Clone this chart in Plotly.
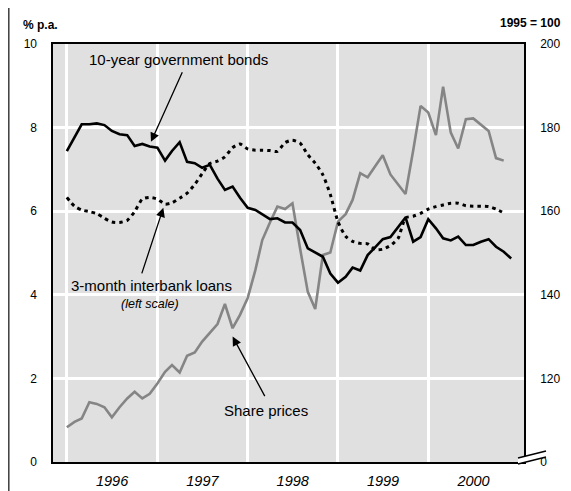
import pandas as pd
import plotly.graph_objects as go

# ---------------- data ----------------
months = pd.date_range("1996-01-01", periods=60, freq="MS")

bonds_10y = [7.44, 7.76, 8.08, 8.08, 8.10, 8.06, 7.92, 7.84, 7.82, 7.56, 7.61, 7.55,
             7.52, 7.21, 7.44, 7.65, 7.18, 7.15, 7.04, 7.11, 6.78, 6.51, 6.59, 6.32,
             6.08, 6.03, 5.93, 5.81, 5.83, 5.73, 5.73, 5.55, 5.11, 5.01, 4.91, 4.51,
             4.29, 4.43, 4.65, 4.58, 4.95, 5.14, 5.33, 5.38, 5.63, 5.85, 5.27, 5.38,
             5.81, 5.59, 5.35, 5.30, 5.39, 5.19, 5.19, 5.27, 5.33, 5.15, 5.03, 4.87]

interbank_3m = [6.33, 6.12, 6.03, 5.99, 5.94, 5.83, 5.74, 5.73, 5.78, 5.99, 6.29, 6.33,
                6.29, 6.17, 6.20, 6.31, 6.43, 6.64, 6.90, 7.14, 7.20, 7.30, 7.52, 7.61,
                7.49, 7.46, 7.46, 7.45, 7.43, 7.64, 7.70, 7.63, 7.35, 7.15, 6.87, 6.40,
                5.75, 5.40, 5.28, 5.23, 5.22, 5.08, 5.09, 5.18, 5.35, 5.84, 5.88, 5.95,
                6.05, 6.11, 6.15, 6.19, 6.19, 6.13, 6.12, 6.12, 6.11, 6.05, 5.96]

share_prices = [108.3, 109.6, 110.4, 114.3, 113.9, 113.1, 110.7, 113.1, 115.2, 116.8, 115.2, 116.3,
                118.8, 121.6, 123.2, 121.4, 125.4, 126.2, 128.8, 130.8, 133.0, 137.8, 132.0, 135.2,
                139.2, 145.9, 153.1, 157.3, 161.1, 160.5, 161.9, 151.0, 140.7, 136.6, 149.5, 150.1,
                157.5, 159.3, 162.7, 169.1, 168.1, 170.8, 173.4, 168.8, 166.5, 164.1, 174.5, 185.2,
                183.6, 178.2, 189.8, 178.8, 175.0, 182.0, 182.2, 180.6, 179.2, 172.7, 172.1]

left_ticks = [0, 2, 4, 6, 8, 10]
right_ticks = [100, 120, 140, 160, 180, 200]
right_ticktext = ["0", "120", "140", "160", "180", "200"]
year_labels = ["1996", "1997", "1998", "1999", "2000"]
year_mid = ["1996-07-02", "1997-07-02", "1998-07-02", "1999-07-02", "2000-07-02"]
year_starts = ["1996-01-01", "1997-01-01", "1998-01-01", "1999-01-01", "2000-01-01"]

# ---------------- layout helpers (page pixel coordinates) ----------------
PAGE_W, PAGE_H = 571, 491
BODY = 8                      # default body margin of the html page
W, H = PAGE_W - BODY, PAGE_H - BODY
PL, PR, PT, PB = 53, 524, 44, 462   # plot area in page pixels
L, T = PL - BODY, PT - BODY
R, B = PAGE_W - PR, PAGE_H - PB
PW, PH = PR - PL, PB - PT


def px(x):
    return (x - PL) / PW


def py(y):
    return (PB - y) / PH


FONT = "Liberation Sans, Arial, sans-serif"

fig = go.Figure()

fig.add_trace(go.Scatter(x=months[:len(share_prices)], y=share_prices, mode="lines",
                         line=dict(color="#858585", width=2.6), yaxis="y",
                         name="Share prices", hoverinfo="skip"))
fig.add_trace(go.Scatter(x=months[:len(interbank_3m)], y=interbank_3m, mode="lines",
                         line=dict(color="black", width=3, dash="3.5px,4px", shape="spline",
                                   smoothing=0.6),
                         yaxis="y2", name="3-month interbank loans", hoverinfo="skip"))
fig.add_trace(go.Scatter(x=months, y=bonds_10y, mode="lines",
                         line=dict(color="black", width=2.6), yaxis="y2",
                         name="10-year government bonds", hoverinfo="skip"))

annotations = [
    dict(x=px(21), y=py(25), xref="paper", yref="paper", text="<b>% p.a.</b>",
         showarrow=False, xanchor="left", yanchor="middle", font=dict(size=12)),
    dict(x=px(563), y=py(23), xref="paper", yref="paper", text="<b>1995 = 100</b>",
         showarrow=False, xanchor="right", yanchor="middle", font=dict(size=12)),
    dict(x=px(178), y=py(59), xref="paper", yref="paper", text="10-year government bonds",
         showarrow=False, xanchor="center", yanchor="middle", font=dict(size=15)),
    dict(x=px(151), y=py(285), xref="paper", yref="paper", text="3-month interbank loans",
         showarrow=False, xanchor="center", yanchor="middle", font=dict(size=15)),
    dict(x=px(150), y=py(304), xref="paper", yref="paper", text="<i>(left scale)</i>",
         showarrow=False, xanchor="center", yanchor="middle", font=dict(size=12.5)),
    dict(x=px(266), y=py(410), xref="paper", yref="paper", text="Share prices",
         showarrow=False, xanchor="center", yanchor="middle", font=dict(size=15)),
    # arrows
    dict(x="1996-12-06", y=7.66, xref="x", yref="y2", ax=32, ay=-71, text="",
         showarrow=True, arrowhead=2, arrowsize=1.4, arrowwidth=1.3, arrowcolor="black", standoff=0),
    dict(x="1997-01-25", y=6.08, xref="x", yref="y2", ax=-22, ay=67, text="",
         showarrow=True, arrowhead=2, arrowsize=1.4, arrowwidth=1.3, arrowcolor="black", standoff=0),
    dict(x="1997-11-01", y=130.0, xref="x", yref="y", ax=33, ay=61, text="",
         showarrow=True, arrowhead=2, arrowsize=1.4, arrowwidth=1.3, arrowcolor="black", standoff=0),
]

shapes = [
    # outer frame (left and top edges)
    dict(type="line", xref="paper", yref="paper", x0=px(8.8), y0=py(7.2), x1=px(8.8), y1=py(PAGE_H + 2),
         line=dict(color="#3c3c3c", width=1.5)),
    dict(type="line", xref="paper", yref="paper", x0=px(8.8), y0=py(7.2), x1=px(PAGE_W + 2), y1=py(7.2),
         line=dict(color="#3c3c3c", width=1.5)),
    # axis break on right scale
    dict(type="path", xref="paper", yref="paper",
         path=f"M {px(518)} {py(458)} L {px(546)} {py(451)} L {px(546)} {py(457)} L {px(518)} {py(464)} Z",
         fillcolor="white", line=dict(width=0)),
    dict(type="line", xref="paper", yref="paper", x0=px(518), y0=py(458), x1=px(546), y1=py(451),
         line=dict(color="black", width=1.5)),
    dict(type="line", xref="paper", yref="paper", x0=px(518), y0=py(464), x1=px(546), y1=py(457),
         line=dict(color="black", width=1.5)),
]

fig.update_layout(
    width=W, height=H,
    autosize=False,
    margin=dict(l=L, r=R, t=T, b=B, pad=0, autoexpand=False),
    paper_bgcolor="white",
    plot_bgcolor="#e0e0e0",
    font=dict(family=FONT, color="black", size=12),
    showlegend=False,
    annotations=annotations,
    shapes=shapes,
    xaxis=dict(
        type="date",
        range=["1995-11-06", "2001-01-22"],
        tickmode="array",
        tickvals=year_mid,
        ticktext=year_labels,
        ticks="",
        ticklabelstandoff=5,
        tickfont=dict(size=14.5, style="italic"),
        showgrid=False,
        minor=dict(tickmode="array", tickvals=year_starts, showgrid=True,
                   gridcolor="white", gridwidth=2.5, ticks=""),
        showline=True, linecolor="black", linewidth=1.6, mirror=True,
        zeroline=False, automargin=False,
    ),
    yaxis=dict(
        side="right",
        range=[100, 200],
        tickvals=right_ticks,
        ticktext=right_ticktext,
        ticks="",
        ticklabelstandoff=12,
        tickfont=dict(size=12),
        showgrid=True, gridcolor="white", gridwidth=2.5,
        showline=True, linecolor="black", linewidth=1.6, mirror=True,
        zeroline=False, automargin=False,
    ),
    yaxis2=dict(
        overlaying="y",
        side="left",
        range=[0, 10],
        tickvals=left_ticks,
        ticks="",
        ticklabelstandoff=15,
        tickfont=dict(size=12),
        showgrid=False,
        showline=False,
        zeroline=False, automargin=False,
    ),
)

fig.write_html("out.html")
